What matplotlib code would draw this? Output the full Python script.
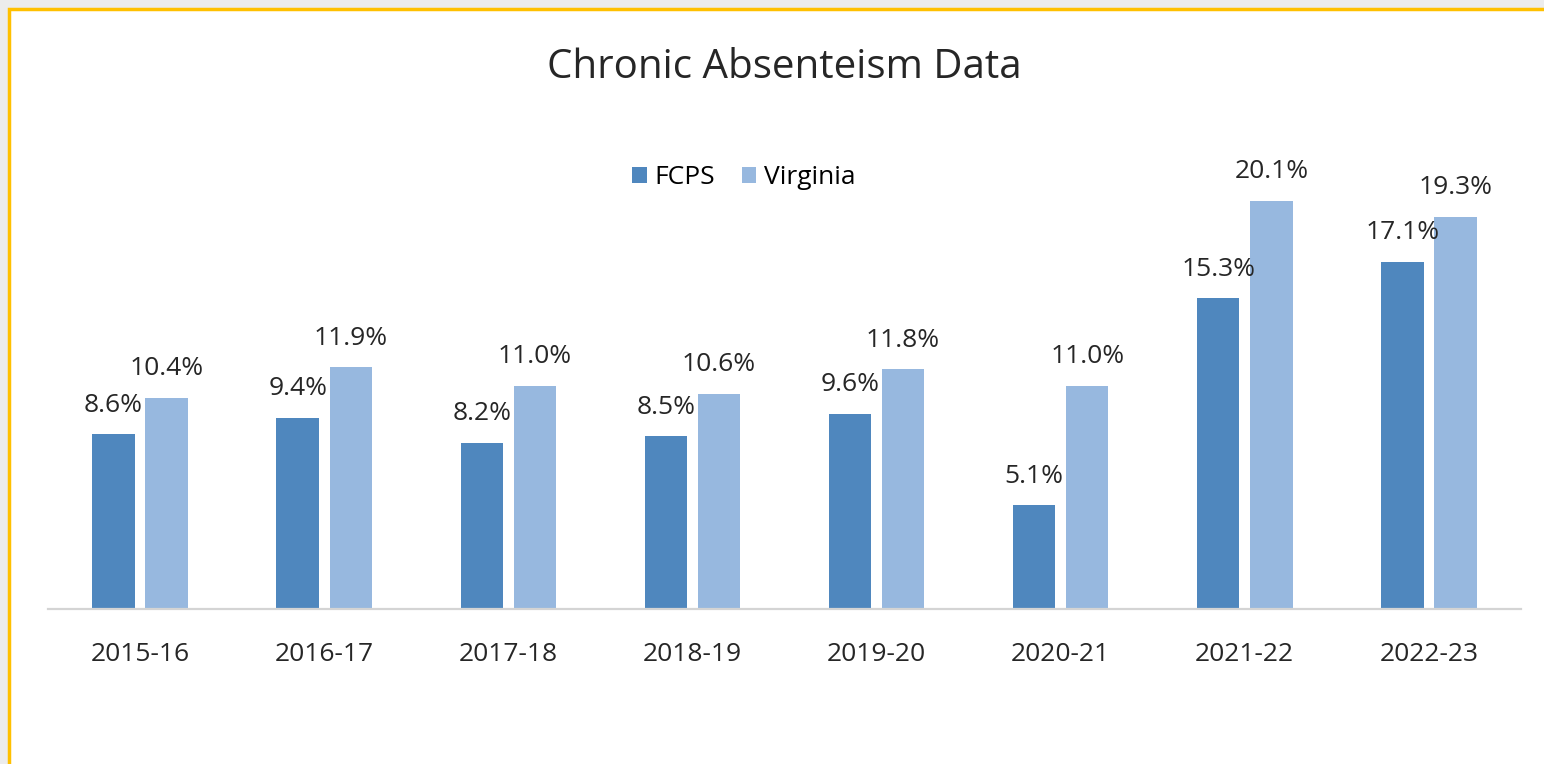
import matplotlib
matplotlib.use("Agg")
import matplotlib.pyplot as plt
from matplotlib.patches import Rectangle
import numpy as np

YEARS = ["2015-16", "2016-17", "2017-18", "2018-19", "2019-20", "2020-21", "2021-22", "2022-23"]
FCPS = [8.6, 9.4, 8.2, 8.5, 9.6, 5.1, 15.3, 17.1]
VIRGINIA = [10.4, 11.9, 11.0, 10.6, 11.8, 11.0, 20.1, 19.3]

DARK = "#4f87be"
LIGHT = "#97b8df"

W, H = 1544, 764
plt.rcParams["font.family"] = ["Open Sans", "DejaVu Sans"]


def main():
    fig = plt.figure(figsize=(W / 100, H / 100), dpi=100)
    fig.patch.set_facecolor("#ececec")
    # white card with the orange frame, kept behind the axes
    fig.add_artist(Rectangle((9 / W, -0.02), 1.02, (H - 9) / H + 0.02,
                             transform=fig.transFigure, facecolor="white",
                             edgecolor="#ffc000", lw=2.5, zorder=-10))

    ax = fig.add_axes([48 / W, (H - 609) / H, 1473 / W, (609 - 106.5) / H])
    x = np.arange(len(YEARS))
    off, bw = 0.144, 0.23
    b1 = ax.bar(x - off, FCPS, bw, color=DARK, label="FCPS")
    b2 = ax.bar(x + off, VIRGINIA, bw, color=LIGHT, label="Virginia")
    for bars, vals in ((b1, FCPS), (b2, VIRGINIA)):
        for r, v in zip(bars, vals):
            ax.annotate(f"{v:.1f}%", (r.get_x() + r.get_width() / 2, v),
                        xytext=(0, 12), textcoords="offset points",
                        ha="center", va="bottom", fontsize=19, color="#262626")

    ax.set_xlim(-0.5, len(YEARS) - 0.5)
    ax.set_ylim(0, 24.75)
    ax.set_xticks(x)
    ax.set_xticklabels(YEARS, fontsize=19, color="#262626")
    ax.tick_params(axis="x", length=0, pad=24)
    ax.set_yticks([])
    for s in ("top", "left", "right"):
        ax.spines[s].set_visible(False)
    ax.spines["bottom"].set_color("#d4d4d4")
    ax.spines["bottom"].set_linewidth(1.6)
    ax.patch.set_alpha(0)

    fig.text(784 / W, 1 - 68 / H, "Chronic Absenteism Data", ha="center",
             va="center", fontsize=29, color="#262626")
    fig.legend(handles=[b1, b2], loc="center", bbox_to_anchor=(744 / W, 1 - 178 / H),
               ncol=2, frameon=False, fontsize=19, handlelength=0.55,
               handleheight=0.55, handletextpad=0.3, columnspacing=1.0)

    fig.savefig("out.png", dpi=100, facecolor=fig.get_facecolor())


if __name__ == "__main__":
    main()
